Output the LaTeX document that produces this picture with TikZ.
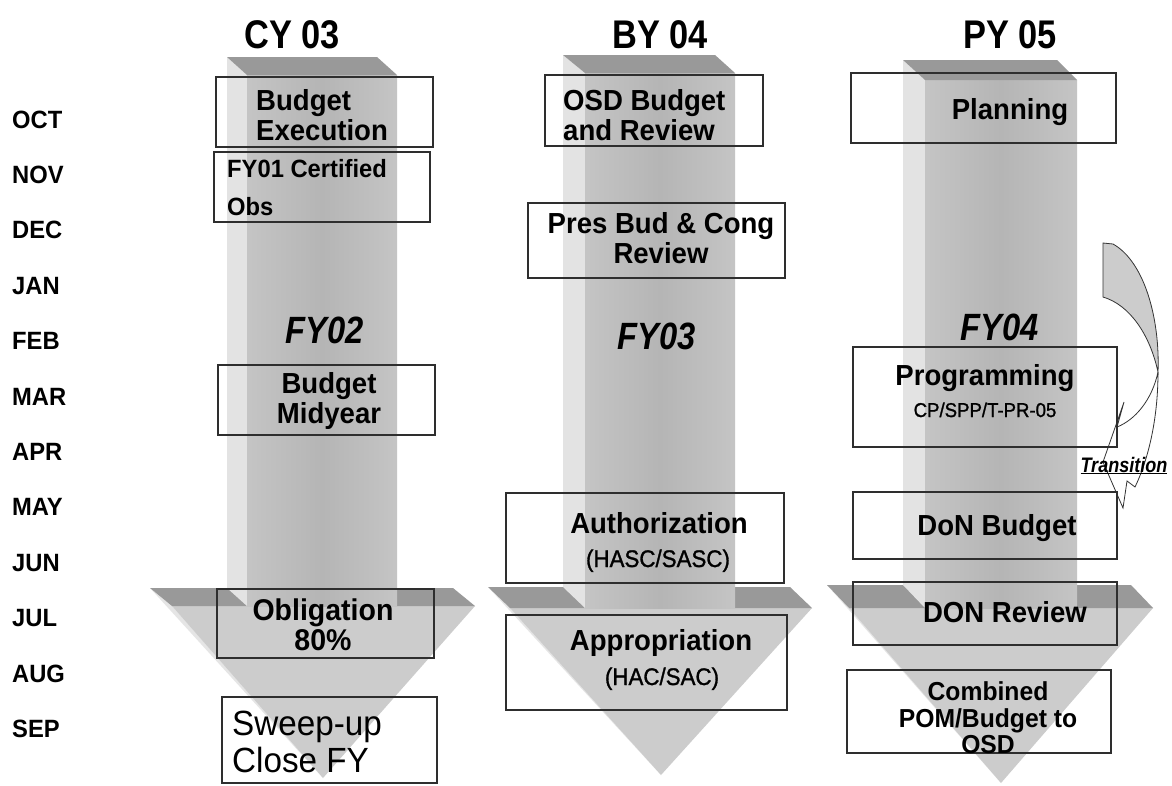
\documentclass[tikz,border=0pt]{standalone}
\usepackage{fontspec}
\setmainfont{Liberation Sans}[FakeStretch=0.95]
\newfontfamily\hdfont{Liberation Sans}[FakeStretch=0.86]
\newfontfamily\subfont{Liberation Sans}[FakeStretch=0.93, FakeBold=1.2]
\definecolor{topc}{gray}{0.60}
\definecolor{frontc}{gray}{0.77}
\definecolor{frontd}{gray}{0.71}
\definecolor{sidec}{gray}{0.89}
\definecolor{headc}{gray}{0.80}
\definecolor{headside}{gray}{0.90}
\definecolor{boxline}{gray}{0.18}
\definecolor{transc}{gray}{0.80}
\begin{document}
\begin{tikzpicture}[x=1pt,y=-1pt,
  boxn/.style={draw=boxline, line width=1.1pt, inner sep=0pt, fill=none},
  t29/.style={inner sep=0pt, anchor=base, font=\fontsize{29}{30}\selectfont\bfseries},
  t25/.style={inner sep=0pt, anchor=base, font=\fontsize{25}{26}\selectfont\bfseries},
  t26/.style={inner sep=0pt, anchor=base, font=\fontsize{26}{27}\selectfont\bfseries},
  t30/.style={inner sep=0pt, anchor=base, font=\fontsize{30}{31}\selectfont\bfseries},
  tsub/.style={inner sep=0pt, anchor=base, font=\subfont\fontsize{24}{25}\selectfont},
  tsmall/.style={inner sep=0pt, anchor=base, font=\subfont\fontsize{20}{21}\selectfont},
  tsweep/.style={inner sep=0pt, anchor=base west, font=\fontsize{35}{36}\selectfont},
  hdr/.style={inner sep=0pt, anchor=base, font=\hdfont\fontsize{40}{41}\selectfont\bfseries},
  fyl/.style={inner sep=0pt, anchor=base, font=\hdfont\fontsize{38}{39}\selectfont\bfseries\itshape},
  mon/.style={inner sep=0pt, anchor=base west, font=\fontsize{25}{26}\selectfont\bfseries},
  trl/.style={inner sep=0pt, anchor=base, font=\hdfont\fontsize{21}{22}\selectfont\bfseries\itshape},
]
\useasboundingbox (0,0) rectangle (1172,785);
\fill[white] (0,0) rectangle (1172,785);

% ---- three 3D arrows ----
\foreach \vA/\vB/\vC/\vD/\vE/\vF/\vG/\vH/\vI/\vJ/\vK in
  {227/247/397/57/75/150/475/588/606/323/778,
   563/585/735/55/73/488/812/587/608/661/775,
   903/925/1077/60/80/827/1153/585/608/1001/783}{
  % arrowhead
  \fill[headside] (\vF,\vH) -- (\vF+22,\vI) -- (\vJ,\vK) -- cycle;
  \fill[headc] (\vF+22,\vI) -- (\vG,\vI) -- (\vJ,\vK) -- cycle;
  \fill[topc] (\vF,\vH) -- (\vG-22,\vH) -- (\vG,\vI) -- (\vF+22,\vI) -- cycle;
  % shaft
  \fill[sidec] (\vA,\vD) -- (\vB,\vE) -- (\vB,\vI) -- (\vA,\vH) -- cycle;
  \shade[left color=frontc, right color=frontc, middle color=frontd]
     (\vB,\vE) rectangle (\vC,\vI);
  \fill[topc] (\vA,\vD) -- (\vC-20,\vD) -- (\vC,\vE) -- (\vB,\vE) -- cycle;
}

% ---- transition arrow ----
\filldraw[fill=transc, draw=black!80, line width=0.8pt]
  (1103,243) -- (1113,244) .. controls (1145,262) and (1160,320) .. (1158,372)
  .. controls (1150,335) and (1130,305) .. (1103,297) -- cycle;
\draw[draw=black!80, line width=0.8pt]
  (1158,372) .. controls (1158,420) and (1148,460) .. (1135,487)
  -- (1127,481) -- (1123,508) -- (1103,462) -- (1124,402) -- (1117,427)
  .. controls (1135,420) and (1152,400) .. (1158,372);
\node[trl] (trans) at (1124,472) {\underline{Transition}};

% ---- headers ----
\node[hdr] (hcy) at (292,48) {CY 03};
\node[hdr] (hby) at (660,48) {BY 04};
\node[hdr] (hpy) at (1010,48) {PY 05};

% ---- months ----
\foreach \m [count=\i from 0] in {OCT,NOV,DEC,JAN,FEB,MAR,APR,MAY,JUN,JUL,AUG,SEP}
  \node[mon] (m\i) at (12,128+55.4*\i) {\m};

% ---- boxes ----
\node[boxn, minimum width=217pt, minimum height=70pt] (b1) at (324.5,112) {};
\node[boxn, minimum width=216pt, minimum height=70pt] (b2) at (322,187) {};
\node[boxn, minimum width=217pt, minimum height=70pt] (b3) at (326.5,400) {};
\node[boxn, minimum width=217pt, minimum height=69pt] (b4) at (325.5,623.5) {};
\node[boxn, minimum width=215pt, minimum height=86pt] (b5) at (329.5,740) {};
\node[boxn, minimum width=218pt, minimum height=71pt] (b6) at (654,110.5) {};
\node[boxn, minimum width=257pt, minimum height=75pt] (b7) at (656.5,240.5) {};
\node[boxn, minimum width=278pt, minimum height=90pt] (b8) at (645,538) {};
\node[boxn, minimum width=281pt, minimum height=95pt] (b9) at (646.5,662.5) {};
\node[boxn, minimum width=265pt, minimum height=70pt] (b10) at (983.5,108) {};
\node[boxn, minimum width=264pt, minimum height=100pt] (b11) at (985,397) {};
\node[boxn, minimum width=264pt, minimum height=67pt] (b12) at (985,525.5) {};
\node[boxn, minimum width=264pt, minimum height=63pt] (b13) at (985,613.5) {};
\node[boxn, minimum width=264pt, minimum height=83pt] (b14) at (979,711.5) {};

% ---- column 1 texts ----
\node[t29, anchor=base west] (t1a) at (256,110) {Budget};
\node[t29, anchor=base west] (t1b) at (256,140) {Execution};
\node[t25, anchor=base west] (t2a) at (227,177) {FY01 Certified};
\node[t25, anchor=base west] (t2b) at (227,215) {Obs};
\node[fyl] (fy02) at (325,343) {FY02};
\node[t29] (t3a) at (329,393) {Budget};
\node[t29] (t3b) at (329,423) {Midyear};
\node[t30] (t4a) at (323,620) {Obligation};
\node[t30] (t4b) at (323,650) {80\%};
\node[tsweep] (t5a) at (232,735) {Sweep-up};
\node[tsweep] (t5b) at (232,772) {Close FY};

% ---- column 2 texts ----
\node[t29, anchor=base west] (t6a) at (563,110) {OSD Budget};
\node[t29, anchor=base west] (t6b) at (563,140) {and Review};
\node[t29] (t7a) at (661,233) {Pres Bud \& Cong};
\node[t29] (t7b) at (661,263) {Review};
\node[fyl] (fy03) at (657,349) {FY03};
\node[t29] (t8a) at (659,533) {Authorization};
\node[tsub] (t8b) at (658,567) {(HASC/SASC)};
\node[t29] (t9a) at (661,650) {Appropriation};
\node[tsub] (t9b) at (662,685) {(HAC/SAC)};

% ---- column 3 texts ----
\node[t29] (t10) at (1010,119) {Planning};
\node[fyl] (fy04) at (1000,340) {FY04};
\node[t29] (t11a) at (985,385) {Programming};
\node[tsmall] (t11b) at (985,417) {CP/SPP/T-PR-05};
\node[t29] (t12) at (997,535) {DoN Budget};
\node[t29] (t13) at (1005,622) {DON Review};
\node[t26] (t14a) at (988,700) {Combined};
\node[t26] (t14b) at (988,727) {POM/Budget to};
\node[t26] (t14c) at (988,753) {OSD};
\end{tikzpicture}
\end{document}
